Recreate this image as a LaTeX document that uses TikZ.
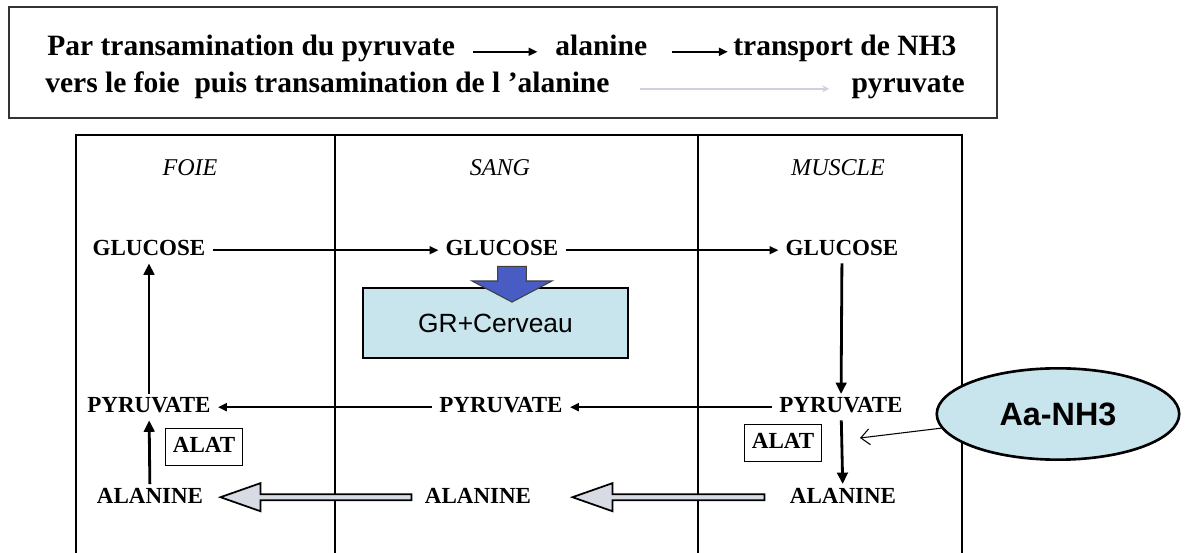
\documentclass[tikz,border=0pt]{standalone}
\usepackage{fontspec}
\setmainfont{Liberation Serif}
\newfontfamily\arialfont{Liberation Sans}
\usetikzlibrary{arrows.meta,calc,shapes.geometric}
\definecolor{paleblue}{RGB}{200,228,236}
\definecolor{arrowblue}{RGB}{72,92,196}
\definecolor{fadegray}{RGB}{205,210,222}
\definecolor{hollowgray}{RGB}{214,219,228}

\begin{document}
\begin{tikzpicture}[x=.02cm,y=-.02cm,
    intro/.style={font=\fontsize{16.8}{20}\selectfont\bfseries,inner sep=0pt,text height=.7em,text depth=.22em},
    lbl/.style={font=\fontsize{13.1}{15}\selectfont\bfseries,inner sep=4pt,text height=.66em,text depth=0pt,anchor=base},
    hdr/.style={font=\fontsize{13.7}{16}\selectfont\itshape,anchor=base},
    enzbox/.style={lbl,draw,line width=.7pt,minimum width=44pt,minimum height=21pt,anchor=center},
    arr/.style={-{Triangle[length=5pt,width=4.5pt]},line width=1.1pt},
    varr/.style={-{Triangle[length=6.5pt,width=6pt]},line width=1.6pt},
    hollow/.style={draw,fill=hollowgray,line width=1pt,to path={let \p1=(\tikztostart),\p2=(\tikztotarget) in
      (\x1,\y1-1.7pt)--(\x2+22.8pt,\y1-1.7pt)--(\x2+22.8pt,\y1-8pt)--(\x2,\y1)--(\x2+22.8pt,\y1+8pt)--(\x2+22.8pt,\y1+1.7pt)--(\x1,\y1+1.7pt)--cycle}},
    blockarr/.style={draw=black!75,fill=arrowblue,line width=.6pt,to path={let \p1=(\tikztostart),\p2=(\tikztotarget) in
      (\x1-8.2pt,\y1)--(\x1+8.2pt,\y1)--(\x1+8.2pt,\y2+12pt)--(\x1+22.8pt,\y2+12pt)--(\x1,\y2)--(\x1-22.8pt,\y2+12pt)--(\x1-8.2pt,\y2+12pt)--cycle}}]
    \useasboundingbox(0,0)rectangle(1186,553);
    \draw[line width=1pt,black!80](9,7)rectangle(997,118);
    \draw[line width=.9pt](76,560)--(76,135)--(962,135)--(962,560)(335,135)--(335,560)(698,135)--(698,560);
    \node[intro,anchor=base west](par)at(47,56){Par transamination du pyruvate};
    \node[intro,anchor=base west](ala1)at(555,56){alanine};
    \node[intro,anchor=base west](nh3)at(733,56){transport de NH3};
    \node[intro,anchor=base west](vers)at(45,93){vers le foie\ \ puis transamination de l 'alanine};
    \node[intro,anchor=base east](pyr2)at(965,93){pyruvate};
    \draw[arr,shorten <=10pt,shorten >=10pt](par.east)--(ala1.west);
    \draw[arr,shorten <=14pt,shorten >=3pt](ala1.east)--(nh3.west);
    \draw[-{Stealth[length=4pt,width=4pt]},fadegray,line width=1pt,shorten <=17pt,shorten >=12.5pt](vers.east)--(pyr2.west);
    \node[hdr](foie)at(190,176){FOIE};
    \node[hdr](sang)at(500,176){SANG};
    \node[hdr](musc)at(838,176){MUSCLE};
    \foreach\col/\x in{F/149,S/502,M/842}
    \node[lbl](gluc\col)at(\x,256){GLUCOSE};
    \foreach\col/\x in{F/149,S/501,M/841}
    \node[lbl](pyr\col)at(\x,413){PYRUVATE};
    \foreach\col/\x in{F/150,S/478,M/843}
    \node[lbl](ala\col)at(\x,503){ALANINE};
    \node[enzbox](alatF)at(204,447){ALAT};
    \node[enzbox](alatM)at(783,443){ALAT};
    \node[draw,line width=1.1pt,fill=paleblue,minimum width=150.8pt,minimum height=39.8pt,font=\arialfont\fontsize{15}{18}\selectfont](grc)at(495.5,323){GR+Cerveau};
    \node[ellipse,draw,line width=1.5pt,fill=paleblue,minimum width=138pt,minimum height=52pt,inner sep=0pt,font=\arialfont\bfseries\fontsize{18.4}{22}\selectfont](aa)at(1058,414){Aa-NH3};
    \coordinate(alatpt)at(860,438);
    \draw[arr](glucF)--(glucS);
    \draw[arr](glucS)--(glucM);
    \draw[varr](glucM)--(pyrM);
    \draw[arr](pyrM)--(pyrS);
    \draw[arr](pyrS)--(pyrF);
    \draw[varr](pyrM)--(alaM);
    \draw[varr](alaF)--(pyrF);
    \draw[varr](pyrF)--(glucF);
    \draw[blockarr]($(glucS.south)+(10,3)$)to($(grc.north)+(16.5,15)$);
    \draw[hollow]($(alaM.west)+(-18,0)$)to($(alaS.east)+(34,0)$);
    \draw[hollow]($(alaS.west)+(-6,0)$)to($(alaF.east)+(10,0)$);
    \draw[-{Straight Barb[length=5pt,width=9pt]},line width=.6pt](aa)--(alatpt);
  \end{tikzpicture}
\end{document}
